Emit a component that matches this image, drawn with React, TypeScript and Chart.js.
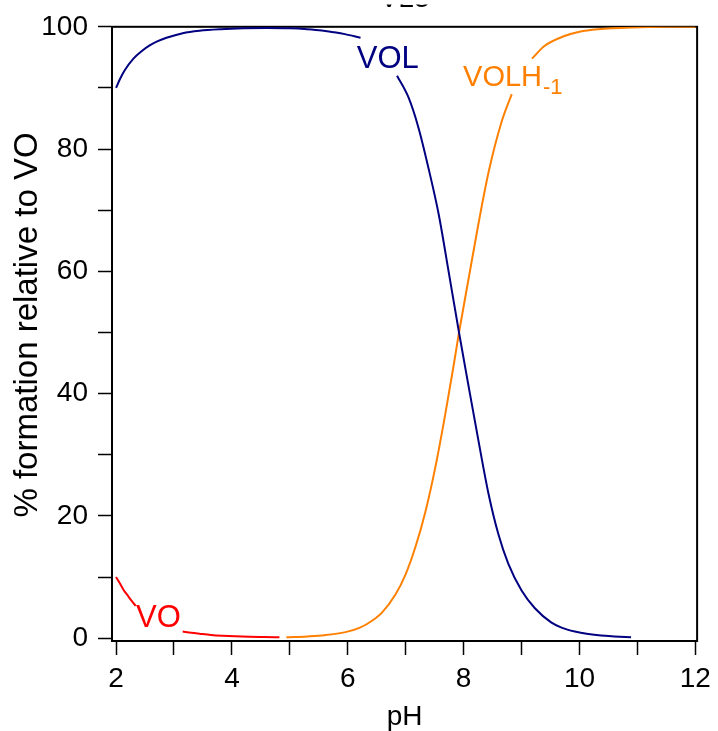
import React, { useEffect, useRef } from "react";
import { Chart, registerables } from "chart.js";

Chart.register(...registerables);

// ---- data ----
const voPH = [2.0, 2.07, 2.13, 2.2, 2.27, 2.34, 2.7, 3.15, 3.3, 3.44, 3.64, 3.84, 4.06, 4.3, 4.55, 4.82];
const voPct = [10.0, 8.9, 7.9, 7.0, 6.1, 5.3, null, 1.1, 0.9, 0.75, 0.55, 0.42, 0.32, 0.25, 0.2, 0.15];

const volPH = [2.0, 2.07, 2.15, 2.3, 2.44, 2.58, 2.72, 2.87, 3.15, 3.44, 3.8, 4.2, 4.6, 5.0, 5.3, 5.55, 5.73, 5.95, 6.22, 6.5, 6.85, 7.05, 7.22, 7.4, 7.57, 7.74, 7.92, 8.08, 8.25, 8.43, 8.6, 8.77, 9.0, 9.23, 9.51, 9.7, 9.92, 10.15, 10.37, 10.6, 10.89];
const volPct = [90.0, 91.5, 92.9, 94.8, 96.0, 96.95, 97.65, 98.2, 98.95, 99.35, 99.6, 99.75, 99.8, 99.75, 99.6, 99.4, 99.15, 98.8, 98.2, null, 92.0, 88.4, 83.5, 76.6, 69.3, 60.0, 50.0, 41.5, 32.6, 23.6, 17.0, 12.2, 7.8, 4.9, 2.6, 1.7, 1.1, 0.7, 0.45, 0.3, 0.15];

const volhPH = [4.94, 5.3, 5.6, 5.96, 6.2, 6.36, 6.59, 6.82, 7.0, 7.17, 7.34, 7.51, 7.68, 7.82, 7.92, 8.08, 8.25, 8.43, 8.65, 8.83, 9.0, 9.18, 9.4, 9.74, 10.0, 10.32, 10.9, 11.5, 12.0];
const volhPct = [0.15, 0.3, 0.5, 1.0, 1.7, 2.5, 4.2, 7.1, 10.5, 15.0, 20.7, 27.9, 36.5, 44.2, 50.0, 58.5, 67.5, 76.2, 84.3, 89.0, null, 94.8, 96.9, 98.5, 99.2, 99.6, 99.9, 100, 100];

const xTickValues = [2, 3, 4, 5, 6, 7, 8, 9, 10, 11, 12];
const xLabelValues = [2, 4, 6, 8, 10, 12];
const yTickValues = [0, 10, 20, 30, 40, 50, 60, 70, 80, 90, 100];
const yLabelValues = [0, 20, 40, 60, 80, 100];

const seriesNames = ["VO", "VOL", "VOLH"];
const seriesSubscripts = ["", "", "-1"];
const labelPH = [2.73, 6.69, 7.99];
const labelPct = [1.84, 93.2, 90.25];
const labelAlign = ["center", "center", "left"];
const yTitle = "% formation relative to VO";
const clippedTitle = "VL3";

const COLORS = ["#ff0000", "#000080", "#ff8000"];
const FONT = "'Liberation Sans', Arial, Helvetica, sans-serif";

function toPoints(xs: number[], ys: (number | null)[]) {
  return xs.map((x, i) => ({ x, y: ys[i] }));
}

const framePlugin = {
  id: "frame",
  beforeDatasetsDraw(chart: any) {
    const { ctx, chartArea } = chart;
    ctx.save();
    ctx.strokeStyle = "#000";
    ctx.lineWidth = 2;
    ctx.strokeRect(chartArea.left, chartArea.top, chartArea.right - chartArea.left, chartArea.bottom - chartArea.top);
    // y axis title
    ctx.fillStyle = "#000";
    ctx.font = `33px ${FONT}`;
    ctx.textAlign = "center";
    ctx.textBaseline = "middle";
    ctx.translate(28, 325);
    ctx.rotate(-Math.PI / 2);
    ctx.fillText(yTitle, 0, 0);
    ctx.restore();
  },
  afterDatasetsDraw(chart: any) {
    const { ctx, chartArea } = chart;
    const xs = chart.scales.x;
    const ys = chart.scales.y;
    ctx.save();
    ctx.textBaseline = "alphabetic";
    for (let i = 0; i < seriesNames.length; i++) {
      const px = xs.getPixelForValue(labelPH[i]);
      const py = ys.getPixelForValue(labelPct[i]);
      ctx.fillStyle = COLORS[i];
      ctx.font = `${i === 2 ? 29 : 31}px ${FONT}`;
      ctx.textAlign = labelAlign[i] as CanvasTextAlign;
      ctx.fillText(seriesNames[i], px, py);
      if (seriesSubscripts[i]) {
        const w = ctx.measureText(seriesNames[i]).width;
        const sx = labelAlign[i] === "left" ? px + w + 1 : px + w / 2 + 1;
        ctx.font = `22px ${FONT}`;
        ctx.textAlign = "left";
        ctx.fillText(seriesSubscripts[i], sx, py + 8);
      }
    }
    ctx.restore();
    // title, cut off by the top edge of the picture
    ctx.save();
    ctx.beginPath();
    ctx.rect(0, 4.5, chart.width, 3);
    ctx.clip();
    ctx.fillStyle = "#000";
    ctx.font = `28px ${FONT}`;
    ctx.textAlign = "center";
    ctx.textBaseline = "alphabetic";
    ctx.fillText(clippedTitle, (chartArea.left + chartArea.right) / 2, 7);
    ctx.restore();
  },
};

export default function App() {
  const ref = useRef<HTMLCanvasElement | null>(null);

  useEffect(() => {
    document.body.style.margin = "0";
    const canvas = ref.current;
    if (!canvas) return;
    const common = {
      pointRadius: 0,
      borderWidth: 2,
      fill: false,
      spanGaps: false,
      cubicInterpolationMode: "monotone" as const,
    };
    const chart = new Chart(canvas, {
      type: "line",
      data: {
        datasets: [
          { ...common, label: "VO", data: toPoints(voPH, voPct) as any, borderColor: COLORS[0] },
          { ...common, label: "VOL", data: toPoints(volPH, volPct) as any, borderColor: COLORS[1] },
          { ...common, label: "VOLH-1", data: toPoints(volhPH, volhPct) as any, borderColor: COLORS[2] },
        ],
      },
      options: {
        animation: false,
        responsive: false,
        devicePixelRatio: 1,
        layout: { padding: { top: 25, right: 18, left: 0, bottom: 0 } },
        plugins: { legend: { display: false }, tooltip: { enabled: false }, title: { display: false } },
        scales: {
          x: {
            type: "linear",
            min: 1.93,
            max: 12.03,
            afterBuildTicks: (s: any) => {
              s.ticks = xTickValues.map((v) => ({ value: v }));
            },
            afterFit: (s: any) => {
              s.height = 90;
            },
            grid: { drawOnChartArea: false, drawTicks: true, tickLength: 14, tickColor: "#000", tickWidth: 1.5 },
            border: { display: true, color: "#000", width: 2 },
            ticks: {
              color: "#000",
              padding: 7,
              maxRotation: 0,
              autoSkip: false,
              font: { family: FONT, size: 28 },
              callback: (v: any) => (xLabelValues.includes(Number(v)) ? String(v) : ""),
            },
            title: {
              display: true,
              text: "pH",
              color: "#000",
              font: { family: FONT, size: 28, lineHeight: 1 },
              padding: { top: 0, bottom: 0 },
            },
          },
          y: {
            type: "linear",
            min: -0.45,
            max: 100,
            afterBuildTicks: (s: any) => {
              s.ticks = yTickValues.map((v) => ({ value: v }));
            },
            afterFit: (s: any) => {
              s.width = 112;
            },
            grid: { drawOnChartArea: false, drawTicks: true, tickLength: 14, tickColor: "#000", tickWidth: 1.5 },
            border: { display: true, color: "#000", width: 2 },
            ticks: {
              color: "#000",
              padding: 10,
              autoSkip: false,
              font: { family: FONT, size: 28 },
              callback: (v: any) => (yLabelValues.includes(Number(v)) ? String(v) : ""),
            },
            title: { display: false },
          },
        },
      },
      plugins: [framePlugin],
    });
    return () => chart.destroy();
  }, []);

  return (
    <div style={{ width: 718, height: 731 }}>
      <canvas ref={ref} width={718} height={731} style={{ display: "block" }} />
    </div>
  );
}
